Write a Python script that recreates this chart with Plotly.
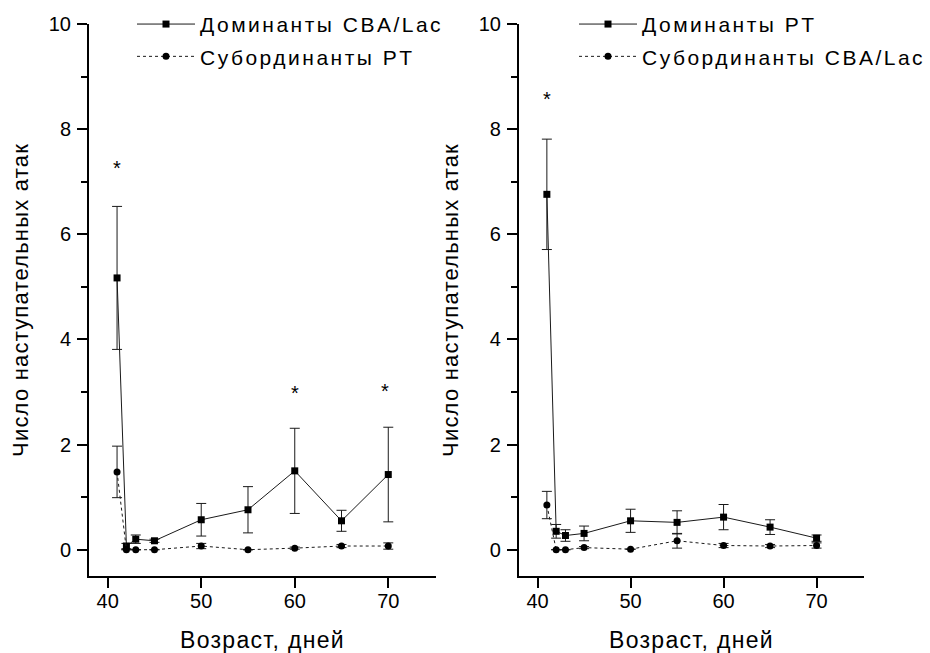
import plotly.graph_objects as go

# ---------------- data ----------------
ages = [41, 42, 43, 45, 50, 55, 60, 65, 70]

# left panel
dom_cba = [5.17, 0.07, 0.20, 0.17, 0.57, 0.76, 1.50, 0.55, 1.43]
dom_cba_err = [1.36, 0.05, 0.08, 0.03, 0.31, 0.44, 0.81, 0.20, 0.90]
sub_pt = [1.48, 0.00, 0.00, 0.00, 0.07, 0.00, 0.03, 0.07, 0.07]
sub_pt_err = [0.49, 0.00, 0.00, 0.00, 0.05, 0.00, 0.02, 0.03, 0.06]

# right panel
dom_pt = [6.76, 0.35, 0.27, 0.31, 0.55, 0.52, 0.62, 0.43, 0.22]
dom_pt_err = [1.05, 0.13, 0.11, 0.14, 0.22, 0.22, 0.24, 0.14, 0.06]
sub_cba = [0.85, 0.00, 0.00, 0.04, 0.01, 0.17, 0.08, 0.07, 0.08]
sub_cba_err = [0.26, 0.00, 0.00, 0.02, 0.00, 0.14, 0.04, 0.03, 0.05]

# significance marks
sig_left_x = [41, 60, 69.6]
sig_left_y = [7.29, 3.02, 3.05]
sig_right_x = [41]
sig_right_y = [8.61]

x_ticks = [40, 50, 60, 70]
y_ticks = [0, 2, 4, 6, 8, 10]
y_minor = [1, 3, 5, 7, 9]

names_left = ["Доминанты CBA/Lac", "Субординанты PT"]
names_right = ["Доминанты PT", "Субординанты CBA/Lac"]
x_title = "Возраст, дней"
y_title = "Число наступательных атак"

FONT = "Liberation Sans, Arial, sans-serif"
INK = "#1a1a1a"

fig = go.Figure()


def add_pair(xa, ya, leg, names, dvals, derr, svals, serr):
    fig.add_trace(go.Scatter(
        x=ages, y=dvals, name=names[0], mode="lines+markers",
        xaxis=xa, yaxis=ya, legend=leg, legendgroup=leg + "a",
        line=dict(color=INK, width=1),
        marker=dict(symbol="square", size=7, color="black"),
        error_y=dict(type="data", array=derr, visible=True,
                     color=INK, thickness=1, width=5),
    ))
    fig.add_trace(go.Scatter(
        x=ages, y=svals, name=names[1], mode="lines+markers",
        xaxis=xa, yaxis=ya, legend=leg, legendgroup=leg + "b",
        line=dict(color=INK, width=1, dash="dot"),
        marker=dict(symbol="circle", size=7, color="black"),
        error_y=dict(type="data", array=serr, visible=True,
                     color=INK, thickness=1, width=5),
    ))


add_pair("x", "y", "legend", names_left, dom_cba, dom_cba_err, sub_pt, sub_pt_err)
add_pair("x2", "y2", "legend2", names_right, dom_pt, dom_pt_err, sub_cba, sub_cba_err)

annotations = []
for xs, ys, xr, yr in [(sig_left_x, sig_left_y, "x", "y"),
                       (sig_right_x, sig_right_y, "x2", "y2")]:
    for xv, yv in zip(xs, ys):
        annotations.append(dict(
            x=xv, y=yv, xref=xr, yref=yr, text="*", showarrow=False,
            font=dict(family=FONT, size=20, color="black"),
            xanchor="center", yanchor="middle", yshift=-2,
        ))

xaxis_common = dict(
    range=[38, 75.1], tickvals=x_ticks, ticks="outside", ticklen=10,
    tickwidth=1.5, tickcolor="black", showline=True, linecolor="black",
    linewidth=2, showgrid=False, zeroline=False, automargin=False,
    ticklabelstandoff=-4,
    tickfont=dict(family=FONT, size=20, color="black"),
    title=dict(text=x_title, font=dict(family=FONT, size=23, color="black"),
               standoff=23),
)
yaxis_common = dict(
    range=[-0.5, 10], tickvals=y_ticks, ticks="outside", ticklen=10,
    tickwidth=1.5, tickcolor="black", showline=True, linecolor="black",
    linewidth=2, showgrid=False, zeroline=False, automargin=False,
    ticklabelstandoff=2,
    minor=dict(tickvals=y_minor, ticks="outside", ticklen=6,
               tickwidth=1.5, tickcolor="black", showgrid=False),
    tickfont=dict(family=FONT, size=20, color="black"),
    title=dict(text=y_title, font=dict(family=FONT, size=22, color="black"),
               standoff=14),
    domain=[0, 1],
)

legend_common = dict(
    font=dict(family=FONT, size=21, color="black"),
    bgcolor="rgba(0,0,0,0)", borderwidth=0, itemwidth=58,
    traceorder="grouped", tracegroupgap=2,
    xanchor="left", yanchor="top", yref="paper", xref="paper",
)

fig.update_layout(
    width=930, height=653,
    margin=dict(l=89, r=66, t=24, b=77, autoexpand=False),
    paper_bgcolor="white", plot_bgcolor="white",
    font=dict(family=FONT, color="black"),
    xaxis=dict(xaxis_common, domain=[0, 0.4477], anchor="y"),
    yaxis=dict(yaxis_common, anchor="x"),
    xaxis2=dict(xaxis_common, domain=[0.5548, 1], anchor="y2"),
    yaxis2=dict(yaxis_common, anchor="x2"),
    legend=dict(legend_common, x=(132 - 89) / 775, y=1.0364),
    legend2=dict(legend_common, x=(574 - 89) / 775, y=1.0364),
    showlegend=True,
    annotations=annotations,
)

post = """
var gd = document.getElementById('{plot_id}');
var s = document.createElement('style');
s.textContent = 'body{margin:0 !important;overflow:hidden}' +
  'text.legendtext, g.legend text, g.legend2 text{letter-spacing:2.5px}' +
  'text.xtitle,text.x2title{letter-spacing:1.3px}' +
  'text.ytitle,text.y2title{letter-spacing:1.2px}';
document.head.appendChild(s);
function spaceLegends(){
  gd.querySelectorAll('text').forEach(function(t){
    var c = t.getAttribute('class') || '';
    var inLeg = false, p = t.parentNode;
    while (p && p !== gd) {
      var pc = (p.getAttribute && p.getAttribute('class')) || '';
      if (/(^|\\s)legend\\d*(\\s|$)/.test(pc)) { inLeg = true; break; }
      p = p.parentNode;
    }
    if (c.indexOf('legendtext') >= 0 || inLeg) {
      t.style.letterSpacing = '2.5px';
    }
  });
}
spaceLegends();
Plotly.relayout(gd, {'legend.font.family': 'Liberation Sans, Arial',
                     'legend2.font.family': 'Liberation Sans, Arial'})
  .then(function(){ spaceLegends(); });
"""

fig.write_html("out.html", post_script=post,
               config={"displayModeBar": False, "responsive": False})
